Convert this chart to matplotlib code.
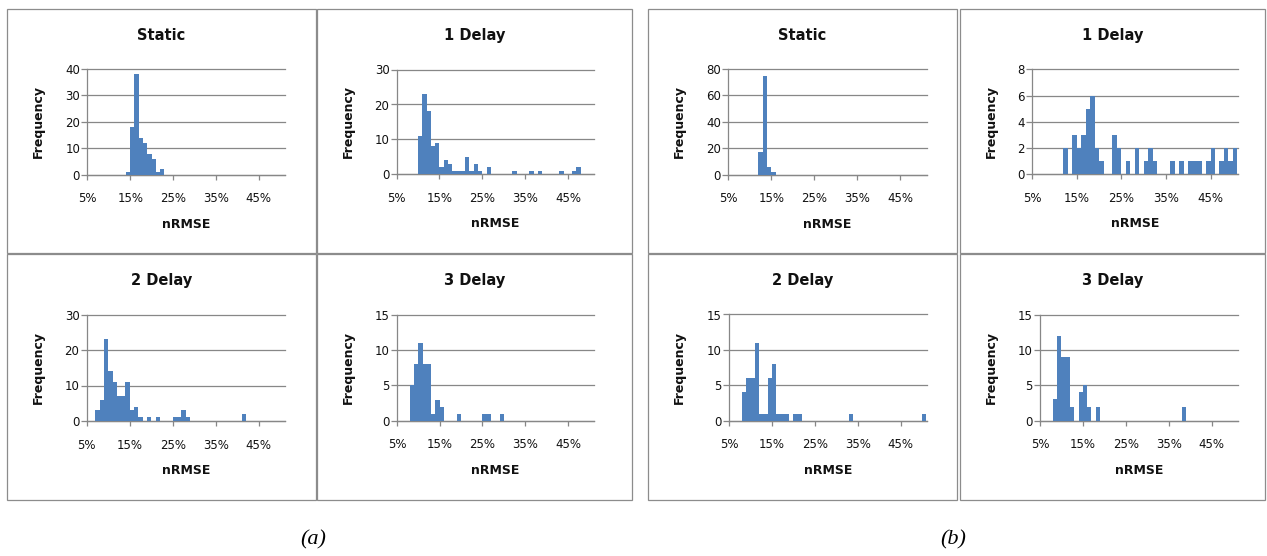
import matplotlib
matplotlib.use("Agg")
import matplotlib.pyplot as plt
from matplotlib.patches import Rectangle
from matplotlib.ticker import FixedLocator, FixedFormatter, MultipleLocator

# ---- histogram data: left edge of each 1%-wide nRMSE bin and its frequency ----
a_static_bins = [14, 15, 16, 17, 18, 19, 20, 21, 22]
a_static_freq = [1, 18, 38, 14, 12, 8, 6, 1, 2]

a_delay1_bins = [10, 11, 12, 13, 14, 15, 16, 17, 18, 19, 20, 21, 22, 23, 24, 26,
                 32, 36, 38, 43, 46, 47]
a_delay1_freq = [11, 23, 18, 8, 9, 2, 4, 3, 1, 1, 1, 5, 1, 3, 1, 2,
                 1, 1, 1, 1, 1, 2]

a_delay2_bins = [7, 8, 9, 10, 11, 12, 13, 14, 15, 16, 17, 19, 21, 25, 26, 27, 28, 41]
a_delay2_freq = [3, 6, 23, 14, 11, 7, 7, 11, 3, 4, 1, 1, 1, 1, 1, 3, 1, 2]

a_delay3_bins = [8, 9, 10, 11, 12, 13, 14, 15, 19, 25, 26, 29]
a_delay3_freq = [5, 8, 11, 8, 8, 1, 3, 2, 1, 1, 1, 1]

b_static_bins = [12, 13, 14, 15]
b_static_freq = [17, 75, 6, 2]

b_delay1_bins = [12, 14, 15, 16, 17, 18, 19, 20, 23, 24, 26, 28, 30, 31, 32,
                 36, 38, 40, 41, 42, 44, 45, 47, 48, 49, 50]
b_delay1_freq = [2, 3, 2, 3, 5, 6, 2, 1, 3, 2, 1, 2, 1, 2, 1,
                 1, 1, 1, 1, 1, 1, 2, 1, 2, 1, 2]

b_delay2_bins = [8, 9, 10, 11, 12, 13, 14, 15, 16, 17, 18, 20, 21, 33, 50]
b_delay2_freq = [4, 6, 6, 11, 1, 1, 6, 8, 1, 1, 1, 1, 1, 1, 1]

b_delay3_bins = [8, 9, 10, 11, 12, 14, 15, 16, 18, 38]
b_delay3_freq = [3, 12, 9, 9, 2, 4, 5, 2, 2, 2]

panel_titles = ["Static", "1 Delay", "2 Delay", "3 Delay"]
x_tick_values = [5, 15, 25, 35, 45]
x_tick_labels = ["5%", "15%", "25%", "35%", "45%"]
group_labels = ["(a)", "(b)"]

# ---- figure geometry (pixels) ----
W, H = 1267, 556
BAR = "#4F81BD"
GRID = "#878787"
BORDER = "#8c8c8c"
TXT = "#111111"

fig = plt.figure(figsize=(W / 100, H / 100), dpi=100)
fig.patch.set_facecolor("white")


def fig_rect(x0, y0, x1, y1):
    return [x0 / W, 1 - y1 / H, (x1 - x0) / W, (y1 - y0) / H]


# (panel box, axes box, bins, freq, title, ymax, ystep)
panels = [
    ((7, 9, 316, 253), (87.3, 69, 285, 174.7), a_static_bins, a_static_freq, panel_titles[0], 40, 10),
    ((317, 9, 632, 253), (396.7, 69.5, 594, 174.5), a_delay1_bins, a_delay1_freq, panel_titles[1], 30, 10),
    ((7, 254, 316, 500), (86.7, 314.5, 285, 421), a_delay2_bins, a_delay2_freq, panel_titles[2], 30, 10),
    ((317, 254, 632, 500), (397, 315, 594, 420.7), a_delay3_bins, a_delay3_freq, panel_titles[3], 15, 5),
    ((648, 9, 957, 253), (728.3, 69, 926.7, 174.7), b_static_bins, b_static_freq, panel_titles[0], 80, 20),
    ((960, 9, 1265, 253), (1032.3, 69.3, 1237.7, 174.3), b_delay1_bins, b_delay1_freq, panel_titles[1], 8, 2),
    ((648, 254, 957, 500), (729, 314.5, 926.7, 420.7), b_delay2_bins, b_delay2_freq, panel_titles[2], 15, 5),
    ((960, 254, 1265, 500), (1040, 314.7, 1237.7, 420.7), b_delay3_bins, b_delay3_freq, panel_titles[3], 15, 5),
]

for (px0, py0, px1, py1), (ax0, ay0, ax1, ay1), bins, freq, title, ymax, ystep in panels:
    # chart border
    fig.add_artist(Rectangle((px0 / W, 1 - py1 / H), (px1 - px0) / W, (py1 - py0) / H,
                             transform=fig.transFigure, fill=False,
                             edgecolor=BORDER, linewidth=0.9))
    # chart title centred on the chart box
    fig.text((px0 + px1) / 2 / W, 1 - (py0 + 26.5) / H, title,
             ha="center", va="center", fontsize=10.5, fontweight="bold", color=TXT)

    ax = fig.add_axes(fig_rect(ax0, ay0, ax1, ay1))
    ax.bar(bins, freq, width=1.0, align="edge", color=BAR, edgecolor="none",
           linewidth=0, zorder=3)

    ax.set_xlim(5, 51.1)
    ax.set_ylim(0, ymax)
    ax.yaxis.set_major_locator(MultipleLocator(ystep))
    ax.xaxis.set_major_locator(FixedLocator(x_tick_values))
    ax.xaxis.set_major_formatter(FixedFormatter(x_tick_labels))

    ax.grid(axis="y", color=GRID, linewidth=0.9, zorder=1)
    ax.set_axisbelow(True)
    for gl in ax.get_ygridlines():
        gl.set_clip_on(False)
    for side in ("top", "right"):
        ax.spines[side].set_visible(False)
    for side in ("left", "bottom"):
        ax.spines[side].set_color(GRID)
        ax.spines[side].set_linewidth(0.9)

    ax.tick_params(axis="x", direction="out", length=3.8, width=0.9, color=GRID,
                   pad=9.0, labelsize=8.5, labelcolor=TXT)
    ax.tick_params(axis="y", direction="out", length=4.0, width=0.9, color=GRID,
                   pad=1.2, labelsize=8.5, labelcolor=TXT)

    ax_w = ax1 - ax0
    ax_h = ay1 - ay0
    ax.set_xlabel("nRMSE", fontsize=9, fontweight="bold", color=TXT, va="center")
    ax.xaxis.set_label_coords(0.5, -49.5 / ax_h)
    ax.set_ylabel("Frequency", fontsize=9, fontweight="bold", color=TXT, va="center")
    ax.yaxis.set_label_coords((px0 + 31.5 - ax0) / ax_w, 0.5)

# sub-figure captions
for label, cx in zip(group_labels, (313, 953)):
    fig.text(cx / W, 1 - 540 / H, label, ha="center", va="center", fontsize=16,
             style="italic", family="Liberation Serif", color="black")

fig.savefig("out.png", dpi=100, facecolor="white")
